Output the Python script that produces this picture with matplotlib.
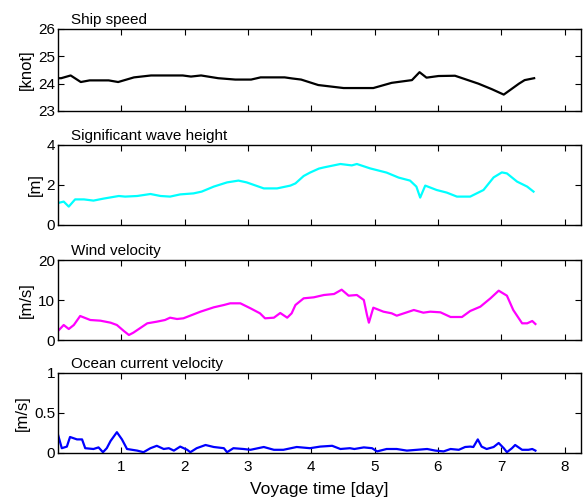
import matplotlib
matplotlib.use("Agg")
import matplotlib.pyplot as plt

plt.rcParams['font.family'] = ['Liberation Sans', 'DejaVu Sans']

# Ship speed [knot]
speed_t = [0.0, 0.05, 0.2, 0.36, 0.5, 0.8, 0.95, 1.2, 1.47, 1.97, 2.1, 2.26, 2.53, 2.8, 3.05, 3.2,
           3.58, 3.7, 3.84, 4.11, 4.51, 4.98, 5.27, 5.59, 5.71, 5.82, 6.01, 6.27, 6.64, 6.85,
           7.04, 7.28, 7.37, 7.52]
speed_v = [24.2, 24.2, 24.3, 24.06, 24.12, 24.12, 24.06, 24.23, 24.3, 24.3, 24.26, 24.3, 24.2,
           24.15, 24.15, 24.23, 24.23, 24.19, 24.15, 23.95, 23.84, 23.84, 24.03, 24.13, 24.42,
           24.22, 24.28, 24.29, 24.0, 23.8, 23.6, 24.0, 24.13, 24.2]

# Significant wave height [m]
wave_t = [0.0, 0.09, 0.17, 0.27, 0.41, 0.56, 0.72, 0.96, 1.06, 1.25, 1.46, 1.62, 1.77, 1.93,
          2.14, 2.27, 2.46, 2.67, 2.85, 2.98, 3.25, 3.46, 3.67, 3.75, 3.88, 3.98, 4.12, 4.2,
          4.46, 4.64, 4.72, 4.93, 5.19, 5.38, 5.56, 5.66, 5.72, 5.8, 5.98, 6.14, 6.3, 6.51,
          6.72, 6.88, 7.01, 7.09, 7.25, 7.41, 7.51]
wave_v = [1.1, 1.17, 0.92, 1.28, 1.28, 1.22, 1.32, 1.45, 1.42, 1.45, 1.55, 1.45, 1.42, 1.53,
          1.58, 1.67, 1.92, 2.13, 2.22, 2.13, 1.83, 1.83, 1.97, 2.08, 2.45, 2.62, 2.82, 2.88,
          3.05, 2.98, 3.05, 2.83, 2.62, 2.37, 2.22, 1.92, 1.37, 1.97, 1.75, 1.62, 1.42, 1.42,
          1.75, 2.38, 2.63, 2.58, 2.17, 1.92, 1.67]

# Wind velocity [m/s]
wind_t = [0.0, 0.09, 0.17, 0.25, 0.35, 0.51, 0.67, 0.83, 0.93, 1.04, 1.12, 1.19, 1.41, 1.56,
          1.69, 1.77, 1.88, 1.98, 2.25, 2.46, 2.62, 2.72, 2.88, 3.04, 3.19, 3.27, 3.41, 3.51,
          3.62, 3.69, 3.75, 3.88, 4.04, 4.2, 4.36, 4.48, 4.59, 4.72, 4.83, 4.88, 4.91, 4.98,
          5.14, 5.27, 5.35, 5.51, 5.62, 5.77, 5.88, 6.04, 6.2, 6.38, 6.51, 6.67, 6.83, 6.96,
          7.09, 7.19, 7.33, 7.41, 7.49, 7.54]
wind_v = [2.25, 3.75, 2.75, 3.75, 6.0, 5.0, 4.83, 4.33, 3.75, 2.25, 1.25, 1.83, 4.17, 4.58,
          5.0, 5.58, 5.25, 5.42, 7.08, 8.17, 8.75, 9.17, 9.17, 7.92, 6.67, 5.42, 5.58, 6.75,
          5.58, 6.67, 8.75, 10.42, 10.67, 11.25, 11.5, 12.58, 11.08, 11.25, 10.0, 6.25, 4.33,
          8.08, 7.08, 6.67, 6.08, 6.92, 7.5, 6.83, 7.08, 6.92, 5.75, 5.75, 7.25, 8.33, 10.42,
          12.33, 11.08, 7.5, 4.17, 4.17, 4.75, 4.0]

# Ocean current velocity [m/s]
cur_t = [0.0, 0.06, 0.14, 0.19, 0.3, 0.38, 0.43, 0.56, 0.64, 0.71, 0.77, 0.83, 0.93, 1.01,
         1.09, 1.25, 1.35, 1.46, 1.56, 1.67, 1.75, 1.83, 1.93, 2.04, 2.09, 2.19, 2.33, 2.46,
         2.62, 2.67, 2.77, 2.93, 3.04, 3.25, 3.41, 3.56, 3.77, 3.98, 4.14, 4.33, 4.46, 4.61,
         4.68, 4.83, 4.96, 5.04, 5.19, 5.35, 5.51, 5.67, 5.83, 5.96, 6.09, 6.2, 6.33, 6.43,
         6.51, 6.56, 6.63, 6.69, 6.77, 6.88, 6.96, 7.04, 7.09, 7.17, 7.22, 7.33, 7.43, 7.49,
         7.54]
cur_v = [0.23, 0.06, 0.08, 0.2, 0.17, 0.17, 0.06, 0.05, 0.07, 0.01, 0.06, 0.15, 0.26, 0.17,
         0.05, 0.03, 0.01, 0.06, 0.09, 0.05, 0.06, 0.03, 0.08, 0.04, 0.01, 0.06, 0.1, 0.075,
         0.06, 0.01, 0.06, 0.05, 0.04, 0.075, 0.04, 0.04, 0.075, 0.06, 0.08, 0.09, 0.05, 0.06,
         0.05, 0.07, 0.06, 0.02, 0.05, 0.05, 0.03, 0.04, 0.05, 0.03, 0.02, 0.05, 0.04, 0.075,
         0.08, 0.075, 0.17, 0.08, 0.05, 0.075, 0.125, 0.06, 0.01, 0.06, 0.1, 0.04, 0.04, 0.05,
         0.03]

titles = ["Ship speed", "Significant wave height", "Wind velocity", "Ocean current velocity"]
ylabels = ["[knot]", "[m]", "[m/s]", "[m/s]"]
ylims = [(23, 26), (0, 4), (0, 20), (0, 1)]
yticks = [[23, 24, 25, 26], [0, 2, 4], [0, 10, 20], [0, 0.5, 1]]
ytick_labels = [["23", "24", "25", "26"], ["0", "2", "4"], ["0", "10", "20"], ["0", "0.5", "1"]]
xticks = [1, 2, 3, 4, 5, 6, 7, 8]
colors = ["black", "#00ffff", "#ff00ff", "#0000ff"]
series = [(speed_t, speed_v), (wave_t, wave_v), (wind_t, wind_v), (cur_t, cur_v)]

fig = plt.figure(figsize=(5.84, 5.0), dpi=100)
W, H = 584.0, 500.0
left_px, right_px = 58.0, 581.0
panels_px = [(29, 111), (145, 225), (260, 340), (373, 453)]

for i, (top, bot) in enumerate(panels_px):
    ax = fig.add_axes([left_px / W, 1 - bot / H, (right_px - left_px) / W, (bot - top) / H])
    t, v = series[i]
    ax.plot(t, v, color=colors[i], lw=1.6)
    ax.set_xlim(0, 8.26)
    ax.set_ylim(*ylims[i])
    ax.set_yticks(yticks[i])
    ax.set_yticklabels(ytick_labels[i])
    ax.set_xticks(xticks)
    ax.tick_params(direction='in', top=True, right=True, length=4, width=0.8,
                   labelsize=11, pad=2)
    ax.tick_params(axis='x', pad=5)
    if i < 3:
        ax.set_xticklabels([])
    else:
        ax.set_xlabel("Voyage time [day]", fontsize=12.5, labelpad=6)
    ax.set_ylabel(ylabels[i], fontsize=12, labelpad=3)
    for s in ax.spines.values():
        s.set_linewidth(1.0)
    ax.text(0.025, 1.03, titles[i], transform=ax.transAxes, fontsize=11,
            ha='left', va='bottom')

fig.savefig("out.png", dpi=100)
